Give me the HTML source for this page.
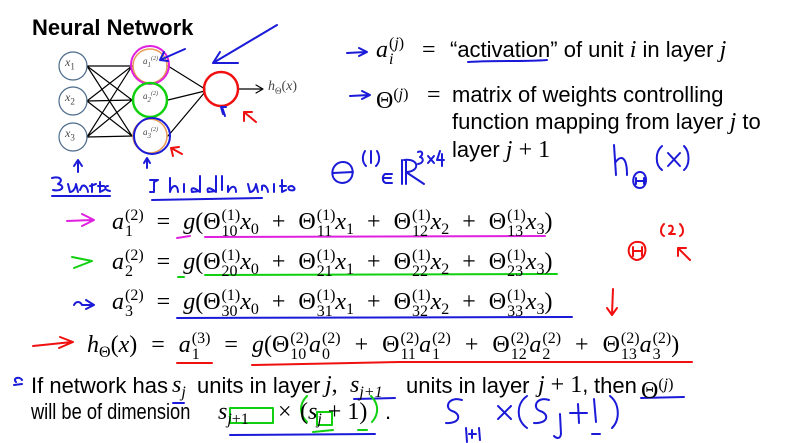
<!DOCTYPE html>
<html><head><meta charset="utf-8"><style>
body{margin:0;width:792px;height:443px;background:#fff;overflow:hidden;position:relative;font-family:"Liberation Sans",sans-serif;color:#000}
.a{position:absolute;white-space:nowrap}
.m{font-family:"Liberation Serif",serif;font-size:24px;line-height:30px}
.i{font-style:italic}
.st{display:inline-block;font-size:16px;line-height:16px;vertical-align:-7px;margin-left:1px;text-align:left}
.st span{display:block}
.o{margin:0 13px}
.o4 .o{margin:0 14px}
.sb{font-size:16px;vertical-align:-5px}
.s{font-family:"Liberation Sans",sans-serif;font-size:22px;line-height:30px}
.n{font-family:"Liberation Sans",sans-serif;font-size:22px;line-height:28px}
svg{position:absolute;left:0;top:0}
</style></head><body>
<div class="a" style="left:32px;top:15px;font-size:22px;font-weight:bold">Neural Network</div>

<svg width="792" height="443" viewBox="0 0 792 443" fill="none" stroke-linecap="round" stroke-linejoin="round">
<g stroke="#000" stroke-width="1.2">
<line x1="87" y1="66" x2="132" y2="66"/><line x1="87" y1="66" x2="132" y2="100"/><line x1="87" y1="66" x2="132" y2="136"/>
<line x1="87" y1="101" x2="132" y2="66"/><line x1="87" y1="101" x2="132" y2="100"/><line x1="87" y1="101" x2="132" y2="136"/>
<line x1="87" y1="137" x2="132" y2="66"/><line x1="87" y1="137" x2="132" y2="100"/><line x1="87" y1="137" x2="132" y2="136"/>
<line x1="168" y1="66" x2="205" y2="89"/><line x1="168" y1="100" x2="205" y2="91"/><line x1="168" y1="136" x2="205" y2="92"/>
<line x1="238" y1="89" x2="262" y2="89"/><path d="M256 85 L263 89 L256 93"/>
</g>
<g stroke="#4a6a8a" stroke-width="1.2">
<circle cx="73" cy="66" r="14"/><circle cx="73" cy="101" r="14"/><circle cx="73" cy="137" r="14"/>
</g>
<g stroke="#e89a50" stroke-width="1.5">
<circle cx="150" cy="66" r="17"/><circle cx="150" cy="100" r="17"/><circle cx="150" cy="136" r="17"/>
</g>
<circle cx="150" cy="65" r="19" stroke="#e020e0" stroke-width="2"/>
<circle cx="150" cy="100" r="17" stroke="#10d010" stroke-width="2.5"/>
<circle cx="152" cy="136" r="18" stroke="#1a1ad8" stroke-width="2"/>
<circle cx="221" cy="89" r="17" stroke="#f01010" stroke-width="2.5"/>
<g stroke="#1a1ad8" stroke-width="2">
<path d="M185 49 L160 60 M160 60 L164 52 M160 60 L168 61"/>
<path d="M277 25 L213 63 M213 63 L220 52 M213 63 L238 63"/>
<path d="M223 114 L221 107 L226 107 M222 107 L225 116"/>
<path d="M78 162 L78 172 M74 166 L78 160 L82 166"/>
<path d="M147 160 L147 168 M144 163 L147 158 L150 163"/>
<path d="M52 178 C60 176 64 180 58 184 C66 186 62 192 53 190 M68 184 L70 192 C74 192 76 186 76 184 L78 192 M80 190 L82 186 C86 184 88 190 88 192 M92 184 L92 192 M90 186 L96 184 M100 182 L100 192 L104 190 M98 186 L104 186 M108 186 C104 186 104 190 110 191"/>
<path d="M52 196 L110 196"/>
<path d="M150 180 L158 180 L154 182 L154 192 L150 192"/>
<path d="M170 178 L170 192 C172 184 178 184 178 192 M184 184 L184 192 M200 176 L200 192 C195 188 190 186 192 192 L200 191 M216 176 L216 192 C211 188 206 186 208 192 L216 191 M222 176 L222 190 M228 186 L228 192 C232 184 236 186 236 192 M248 184 L250 192 C254 192 256 186 256 184 L258 192 M262 190 L262 186 C266 184 268 190 268 192 M274 184 L274 192 M282 180 L282 192 L286 190 M280 186 L286 186 M292 186 C286 186 288 192 294 190 C296 188 292 186 292 186"/>
<path d="M152 200 L262 198"/>
<path d="M347 53 L366 52 M359 48 L367 52 L359 56"/>
<path d="M350 96 L369 95 M362 91 L370 95 L362 99"/>
<path d="M468 62 C500 60 520 62 547 60"/>
<path d="M343 162 C330 162 328 182 342 183 C356 183 356 162 343 162 M333 173 L353 172"/>
<path d="M365 151 C362 156 362 162 366 166 M371 151 L371 163 M377 151 C380 156 380 162 376 166"/>
<path d="M392 174 L385 174 C382 176 382 182 386 183 L392 183 M384 178 L391 178"/>
<path d="M402 160 L402 184 M406 160 L406 184 M404 160 C420 158 420 172 406 172 L424 184"/>
<path d="M418 152 C422 150 424 154 420 157 C424 158 424 163 418 164 M428 156 L434 163 M434 156 L428 163 M440 151 L437 160 L444 160 M442 154 L442 166"/>
<path d="M614 145 L616 175 M615 163 C620 155 627 155 627 175"/>
<path d="M640 172 C632 172 630 188 640 188 C648 188 648 172 640 172 M636 178 L636 184 M644 178 L644 184 M636 181 L644 181"/>
<path d="M662 146 C655 152 655 165 662 170 M668 153 L680 166 M680 153 L668 166 M684 146 C690 152 690 165 684 170"/>
<path d="M16 382 C12 378 20 376 22 380 M14 385 L22 384"/>
<path d="M173 403 L184 403 M354 399 L395 398 M641 398 L684 397"/>
<path d="M230 435 L375 434"/>
<path d="M462 400 C448 396 444 408 452 411 C462 414 460 424 446 423"/>
<path d="M466 428 L467 442 M472 430 L472 438 M469 434 L476 434 M479 428 L480 440"/>
<path d="M498 406 L511 419 M511 406 L498 419 M527 396 C516 404 516 420 527 428"/>
<path d="M549 400 C536 396 532 408 540 411 C550 414 548 424 534 423"/>
<path d="M560 414 L561 434 C560 440 556 438 554 436"/>
<path d="M570 413 L587 413 M578 404 L579 423 M594 399 L596 422 M610 396 C620 404 620 420 612 428 M592 434 L600 434"/>
</g>
<g stroke="#f01010" stroke-width="2">
<path d="M244 112 L256 122 M244 112 L244 121 M244 112 L252 112"/>
<path d="M171 148 L182 154 M171 148 L173 156 M171 148 L179 147"/>
<path d="M639 242 C628 240 624 256 636 260 C648 260 648 242 639 242 M633 247 L633 256 M642 247 L642 256 M633 251 L642 251"/>
<path d="M664 224 C660 228 660 234 664 236 M669 226 C673 224 675 230 669 234 L675 234 M680 224 C684 228 684 234 680 236"/>
<path d="M690 260 L678 248 M678 248 L678 256 M678 248 L686 248"/>
<path d="M613 289 L612 314 M607 308 L612 315 L617 308"/>
<path d="M33 346 L72 342 M60 337 L73 342 L59 348"/>
<path d="M177 363 L212 363 M252 365 L400 362 L692 362"/>
</g>
<g stroke="#e020e0" stroke-width="2"><path d="M67 221 L92 220 M82 214 L94 220 L82 226"/><path d="M177 238 L190 236 M205 237 L545 236"/></g>
<g stroke="#10d010" stroke-width="2"><path d="M72 257 L92 261 L74 268"/><path d="M178 277 L184 277 M205 275 L557 274"/><path d="M230 408 L273 408 L273 423 L230 423 Z M317 412 L332 412 L332 425 L317 425 Z M307 396 C299 404 299 414 307 422 M371 396 C379 404 379 414 372 422 M313 432 L333 430 M358 430 L367 430"/></g>
<g stroke="#1a1ad8" stroke-width="2"><path d="M74 305 C76 301 80 301 82 305 L94 305 M86 300 L94 305 L86 309"/><path d="M177 318 L572 317"/></g>
</svg>

<div class="a" style="left:65px;top:55px;font-family:'Liberation Serif',serif;font-style:italic;font-size:12px;color:#444">x<sub style="font-style:normal;font-size:9px">1</sub></div>
<div class="a" style="left:65px;top:90px;font-family:'Liberation Serif',serif;font-style:italic;font-size:12px;color:#444">x<sub style="font-style:normal;font-size:9px">2</sub></div>
<div class="a" style="left:65px;top:126px;font-family:'Liberation Serif',serif;font-style:italic;font-size:12px;color:#444">x<sub style="font-style:normal;font-size:9px">3</sub></div>
<div class="a" style="left:143px;top:56px;font-family:'Liberation Serif',serif;font-style:italic;font-size:9px;color:#444">a<sub style="font-size:7px">1</sub><sup style="font-size:6px">(2)</sup></div>
<div class="a" style="left:143px;top:91px;font-family:'Liberation Serif',serif;font-style:italic;font-size:9px;color:#444">a<sub style="font-size:7px">2</sub><sup style="font-size:6px">(2)</sup></div>
<div class="a" style="left:143px;top:127px;font-family:'Liberation Serif',serif;font-style:italic;font-size:9px;color:#444">a<sub style="font-size:7px">3</sub><sup style="font-size:6px">(2)</sup></div>
<div class="a" style="left:268px;top:79px;font-family:'Liberation Serif',serif;font-size:14px;color:#444"><i>h</i><sub style="font-size:9px">Θ</sub>(<i>x</i>)</div>

<div class="a m" style="left:376px;top:35px"><i>a</i><span class="st"><span>(<i>j</i>)</span><span><i>i</i></span></span></div>
<div class="a m" style="left:422px;top:35px">=</div>
<div class="a s" style="left:450px;top:35px">“activation” of unit <span class="m i">i</span> in layer <span class="m i">j</span></div>
<div class="a m" style="left:376px;top:80px">Θ<span style="font-size:16px;vertical-align:9px">(<i>j</i>)</span></div>
<div class="a m" style="left:427px;top:80px">=</div>
<div class="a s" style="left:452px;top:80px">matrix of weights controlling</div>
<div class="a s" style="left:452px;top:107px">function mapping from layer <span class="m i">j</span> to</div>
<div class="a s" style="left:452px;top:135px">layer <span class="m i">j</span> <span class="m">+ 1</span></div>

<div class="a m" style="left:112px;top:207px"><i>a</i><span class="st"><span>(2)</span><span>1</span></span><span class="o">=</span><i>g</i>(Θ<span class="st"><span>(1)</span><span>10</span></span><i>x</i><span class="sb">0</span><span class="o">+</span>Θ<span class="st"><span>(1)</span><span>11</span></span><i>x</i><span class="sb">1</span><span class="o">+</span>Θ<span class="st"><span>(1)</span><span>12</span></span><i>x</i><span class="sb">2</span><span class="o">+</span>Θ<span class="st"><span>(1)</span><span>13</span></span><i>x</i><span class="sb">3</span>)</div>
<div class="a m" style="left:112px;top:247px"><i>a</i><span class="st"><span>(2)</span><span>2</span></span><span class="o">=</span><i>g</i>(Θ<span class="st"><span>(1)</span><span>20</span></span><i>x</i><span class="sb">0</span><span class="o">+</span>Θ<span class="st"><span>(1)</span><span>21</span></span><i>x</i><span class="sb">1</span><span class="o">+</span>Θ<span class="st"><span>(1)</span><span>22</span></span><i>x</i><span class="sb">2</span><span class="o">+</span>Θ<span class="st"><span>(1)</span><span>23</span></span><i>x</i><span class="sb">3</span>)</div>
<div class="a m" style="left:112px;top:287px"><i>a</i><span class="st"><span>(2)</span><span>3</span></span><span class="o">=</span><i>g</i>(Θ<span class="st"><span>(1)</span><span>30</span></span><i>x</i><span class="sb">0</span><span class="o">+</span>Θ<span class="st"><span>(1)</span><span>31</span></span><i>x</i><span class="sb">1</span><span class="o">+</span>Θ<span class="st"><span>(1)</span><span>32</span></span><i>x</i><span class="sb">2</span><span class="o">+</span>Θ<span class="st"><span>(1)</span><span>33</span></span><i>x</i><span class="sb">3</span>)</div>
<div class="a m o4" style="left:87px;top:330px"><i>h</i><span class="sb">Θ</span>(<i>x</i>)<span class="o">=</span><i>a</i><span class="st"><span>(3)</span><span>1</span></span><span class="o">=</span><i>g</i>(Θ<span class="st"><span>(2)</span><span>10</span></span><i>a</i><span class="st"><span>(2)</span><span>0</span></span><span class="o">+</span>Θ<span class="st"><span>(2)</span><span>11</span></span><i>a</i><span class="st"><span>(2)</span><span>1</span></span><span class="o">+</span>Θ<span class="st"><span>(2)</span><span>12</span></span><i>a</i><span class="st"><span>(2)</span><span>2</span></span><span class="o">+</span>Θ<span class="st"><span>(2)</span><span>13</span></span><i>a</i><span class="st"><span>(2)</span><span>3</span></span>)</div>

<div class="a n" style="left:31px;top:372px">If network has</div>
<div class="a m i" style="left:172px;top:370px">s<span class="sb">j</span></div>
<div class="a n" style="left:197px;top:372px">units in layer</div>
<div class="a m i" style="left:325px;top:370px">j<span style="font-style:normal">,</span></div>
<div class="a m i" style="left:350px;top:370px">s<span class="sb">j+1</span></div>
<div class="a n" style="left:406px;top:372px">units in layer</div>
<div class="a m" style="left:538px;top:370px"><i>j</i> + 1<span class="n">,</span></div>
<div class="a n" style="left:594px;top:372px">then</div>
<div class="a m" style="left:641px;top:370px">Θ<span style="font-size:16px;vertical-align:9px">(<i>j</i>)</span></div>
<div class="a n" style="left:31px;top:398px;transform:scaleX(0.83);transform-origin:0 0">will be of dimension</div>
<div class="a m" style="left:218px;top:397px"><i>s</i><span class="sb"><i>j</i>+1</span></div>
<div class="a m" style="left:278px;top:397px">×</div>
<div class="a m" style="left:300px;top:397px">(<i>s</i><span class="sb"><i>j</i></span> + 1)</div>
<div class="a n" style="left:385px;top:398px">.</div>
</body></html>
